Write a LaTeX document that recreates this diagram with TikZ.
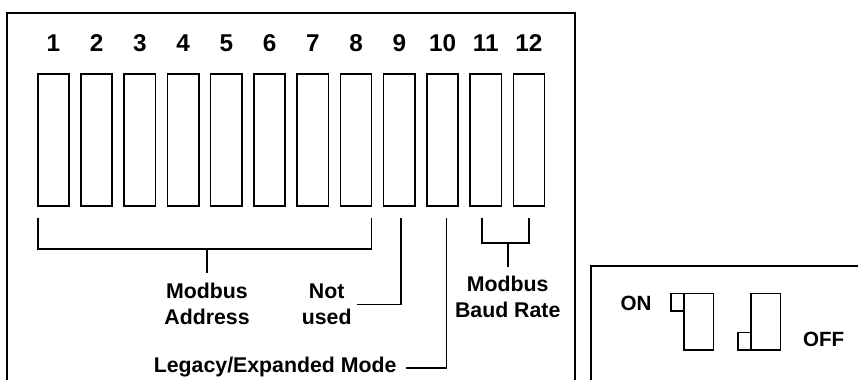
\documentclass[tikz,border=0pt]{standalone}
\usepackage{fontspec}
\setmainfont{Liberation Sans}
\usetikzlibrary{positioning,calc}
\tikzset{
  switchbox/.style={
    rectangle, draw, line width=1.6pt, outer sep=0pt, inner sep=0pt,
    minimum width=31.3pt, minimum height=132pt
  },
  knobbox/.style={
    rectangle, draw, line width=1.6pt, outer sep=0pt, inner sep=0pt,
    minimum width=13.3pt, minimum height=17.4pt
  },
  bodybox/.style={
    rectangle, draw, line width=1.6pt, outer sep=0pt, inner sep=0pt,
    minimum width=29.3pt, minimum height=56.7pt
  },
  numlabel/.style={
    font=\fontsize{24.3}{24}\selectfont\bfseries, inner sep=0pt
  },
  annot/.style={
    font=\fontsize{21.3}{25.4}\selectfont\bfseries, align=center, inner sep=0pt
  },
  legend/.style={
    font=\fontsize{20.6}{24}\selectfont\bfseries, inner sep=0pt
  },
  wire/.style={line width=1.6pt},
}

\begin{document}
\begin{tikzpicture}[x=1pt, y=-1pt]
  \useasboundingbox (0,0) rectangle (858,380);

  % outer frames (cut off at the page edge)
  \draw[wire] (7,380) -- (7,13) -- (575,13) -- (575,380);
  \draw[wire] (591,380) -- (591,266) -- (858,266);

  % the twelve switches and their numbers
  \foreach \i in {1,...,12} {
    \node[switchbox] (sw\i) at ({53.35+43.24*(\i-1)},139.7) {};
    \node[numlabel, anchor=base] (n\i) at ($(sw\i.north)+(0,-22)$) {\i};
  }

  % labels
  \node[annot, anchor=north] (addr) at (207,283) {Modbus\\Address};
  \node[annot, anchor=north] (notused) at (326.7,284) {Not\\used};
  \node[annot, anchor=north] (baud) at (507.7,276) {Modbus\\Baud Rate};
  \node[annot, anchor=base east] (legacy) at (396.7,372.3) {Legacy/Expanded Mode};

  % brackets and leaders
  \draw[wire] ($(sw1.south west)+(0,12)$) |- ($(sw8.south east)+(0,43.3)$)
    -- ($(sw8.south east)+(0,12)$);
  \draw[wire] ($(addr.north)+(0,-9.7)$) -- ++(0,-24.3);
  \draw[wire] ($(sw9.south)+(1.5,12.6)$) |- ($(notused.east)+(5,0)$);
  \draw[wire] ($(sw10.south)+(4,12.6)$) |- ($(legacy.base east)+(9,-4.6)$);
  \draw[wire] ($(sw11.south)+(-3.5,12)$) |- ($(sw12.south)+(0,37)$)
    -- ($(sw12.south)+(0,12)$);
  \draw[wire] ($(baud.north)+(0,-8.7)$) -- ++(0,-24.6);

  % ON / OFF legend
  \node[bodybox] (onbody) at (698.65,321.65) {};
  \node[knobbox, anchor=north east] (onknob) at (onbody.north west) {};
  \node[bodybox, right=37.7pt of onbody] (offbody) {};
  \node[knobbox, anchor=south east] (offknob) at (offbody.south west) {};
  \node[legend, anchor=base east] (onlbl) at ($(onknob.south west)+(-19,0)$) {ON};
  \node[legend, anchor=base west] (offlbl) at ($(offbody.south east)+(22.6,-3.3)$) {OFF};
\end{tikzpicture}
\end{document}
